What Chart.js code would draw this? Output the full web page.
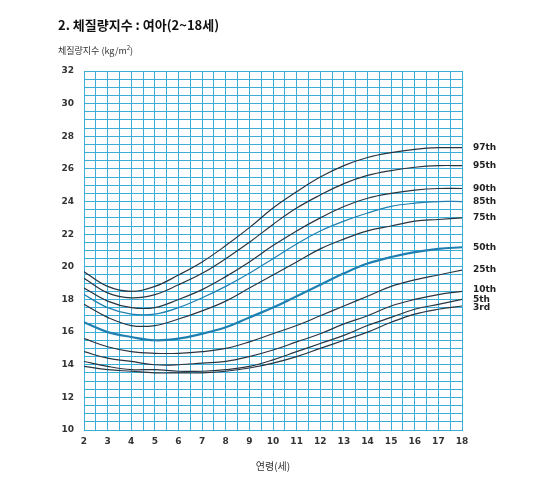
<!DOCTYPE html>
<html><head><meta charset="utf-8">
<script src="https://cdn.jsdelivr.net/npm/chart.js@4"></script>
<style>
body{margin:0;width:550px;height:485px;background:#fff;font-family:"Noto Sans CJK KR","Noto Sans",sans-serif;position:relative;overflow:hidden}
#t{position:absolute;left:58px;top:15px;font-size:13px;font-weight:bold;color:#111}
#yl{position:absolute;left:58px;top:43px;font-size:9px;color:#333}
#c{position:absolute;left:0;top:0}
</style></head><body>
<canvas id="c" width="550" height="485"></canvas>
<div id="t">2. 체질량지수 : 여아(2~18세)</div>
<div id="yl">체질량지수 (kg/m<sup style="font-size:6px">2</sup>)</div>
<script>
const ages=[2,3,4,5,6,7,8,9,10,11,12,13,14,15,16,17,18];
const labels=["97th","95th","90th","85th","75th","50th","25th","10th","5th","3rd"];
const p97=[19.7,18.8,18.5,18.8,19.5,20.3,21.3,22.4,23.6,24.6,25.5,26.2,26.7,27.0,27.2,27.3,27.3];
const p95=[19.3,18.4,18.1,18.3,18.9,19.6,20.5,21.5,22.6,23.6,24.4,25.1,25.6,25.9,26.1,26.2,26.2];
const p90=[18.7,17.9,17.5,17.5,18.0,18.6,19.4,20.3,21.3,22.2,23.0,23.7,24.2,24.5,24.7,24.8,24.8];
const p85=[18.3,17.5,17.1,17.1,17.5,18.1,18.8,19.6,20.5,21.4,22.2,22.8,23.3,23.7,23.9,24.0,24.0];
const p75=[17.7,16.9,16.4,16.4,16.8,17.3,17.9,18.7,19.5,20.3,21.1,21.7,22.2,22.5,22.8,22.9,23.0];
const p50=[16.6,16.0,15.7,15.5,15.6,15.9,16.3,16.9,17.5,18.2,18.9,19.6,20.2,20.6,20.9,21.1,21.2];
const p25=[15.6,15.1,14.8,14.7,14.7,14.8,15.0,15.4,15.9,16.4,17.0,17.6,18.2,18.8,19.2,19.5,19.8];
const p10=[14.8,14.4,14.2,14.0,14.0,14.1,14.2,14.5,14.9,15.4,15.9,16.5,17.0,17.6,18.0,18.3,18.5];
const p5=[14.2,13.9,13.7,13.7,13.6,13.6,13.7,13.9,14.3,14.8,15.3,15.8,16.4,16.9,17.4,17.7,18.0];
const p3=[13.9,13.7,13.6,13.5,13.5,13.5,13.6,13.8,14.1,14.5,15.0,15.5,16.0,16.6,17.1,17.4,17.6];
const series=[p97,p95,p90,p85,p75,p50,p25,p10,p5,p3];
const blue="#1f7fb0",dark="#2a3440";
const datasets=series.map((s,i)=>({label:labels[i],data:s.map((v,j)=>({x:ages[j],y:v})),
 borderColor:(labels[i]==="85th"||labels[i]==="50th")?blue:dark,
 borderWidth:labels[i]==="50th"?2.2:1.2,pointRadius:0,tension:0.4,fill:false}));
const endLabels={id:'endLabels',afterDatasetsDraw(ch){const c=ch.ctx;c.save();c.font="bold 9px 'DejaVu Sans'";c.fillStyle="#222";c.textBaseline="middle";
 const off={"10th":-2,"5th":0,"3rd":2};
 ch.data.datasets.forEach(d=>{const p=d.data[d.data.length-1];c.fillText(d.label,ch.chartArea.right+11,ch.scales.y.getPixelForValue(p.y)+(off[d.label]||0));});c.restore();}};
new Chart(document.getElementById('c'),{type:'line',data:{datasets},plugins:[endLabels],
options:{responsive:false,animation:false,layout:{padding:{left:54,right:88,top:71,bottom:13}},
plugins:{legend:{display:false},tooltip:{enabled:false}},
scales:{x:{type:'linear',min:2,max:18,afterFit(a){a.height=42;},
 ticks:{stepSize:0.5,autoSkip:false,maxRotation:0,padding:6,color:'#333',font:{size:9,weight:'bold',family:'DejaVu Sans'},callback:v=>Number.isInteger(v)?v:''},
 grid:{color:'#3aaed6',lineWidth:1,drawTicks:false},border:{color:'#3aaed6'},
 title:{display:true,text:'연령(세)',color:'#333',font:{size:10,family:'Noto Sans CJK KR'},padding:{top:4,bottom:0}}},
y:{min:10,max:32,afterFit(a){a.width=30;},
 ticks:{stepSize:0.5,autoSkip:false,padding:10,color:'#333',font:{size:9,weight:'bold',family:'DejaVu Sans'},callback:v=>(Number.isInteger(v)&&v%2===0)?v:''},
 grid:{color:'#3aaed6',lineWidth:1,drawTicks:false},border:{color:'#3aaed6'}}}}});
</script></body></html>
